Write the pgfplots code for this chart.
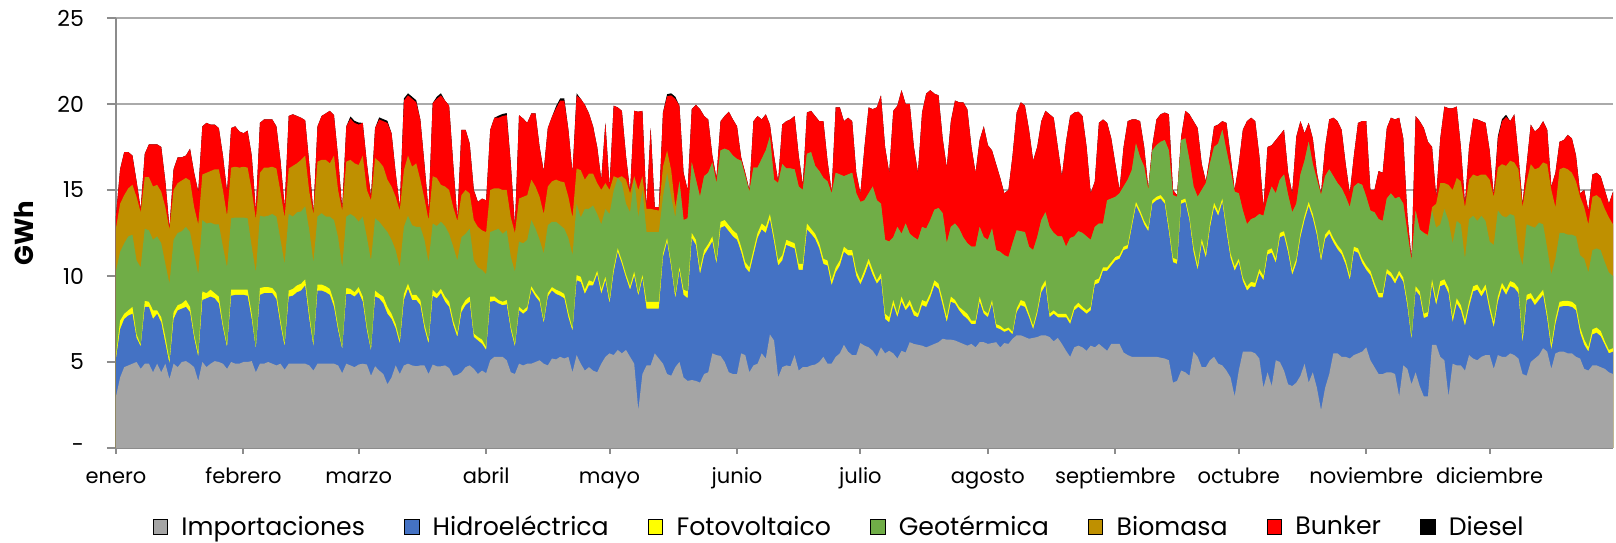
\documentclass[border=0pt]{standalone}
\usepackage{fontspec}
\setmainfont{Poppins}
\usepackage{pgfplots}
\pgfplotsset{compat=1.18}
\usepackage{pgfplotstable}
\usetikzlibrary{calc}
\definecolor{cImp}{RGB}{165,165,165}
\definecolor{cHid}{RGB}{68,114,196}
\definecolor{cFot}{RGB}{255,255,0}
\definecolor{cGeo}{RGB}{112,173,71}
\definecolor{cBio}{RGB}{191,144,0}
\definecolor{cBun}{RGB}{255,0,0}
\definecolor{cDie}{RGB}{0,0,0}
\definecolor{cGrid}{RGB}{170,170,170}
\definecolor{cAxis}{RGB}{140,140,140}
% cumulative tops of the stacked areas (GWh): g=Importaciones, b=+Hidro, y=+Fotovoltaico, e=+Geotermica, o=+Biomasa, r=+Bunker, k=+Diesel
\pgfplotstableread{
d g b y e o r k
0 3.0 5.2 5.4 10.3 12.8 13.5 13.5
1 4.1 6.9 7.4 11.4 14.2 16.2 16.2
2 4.7 7.5 7.8 11.9 14.7 17.2 17.2
3 4.8 7.7 8.0 12.3 15.1 17.2 17.2
4 4.9 7.8 8.2 12.4 15.3 17.0 17.0
5 5.0 6.4 6.6 10.9 14.6 15.5 15.5
6 4.6 5.9 6.0 10.5 13.7 13.9 13.9
7 4.9 8.2 8.55 12.75 15.75 17.1 17.1
8 4.9 8.2 8.5 12.65 15.75 17.65 17.65
9 4.4 7.5 8.0 12.1 15.2 17.65 17.65
10 4.9 7.8 8.0 12.3 15.3 17.65 17.65
11 4.4 7.3 7.6 11.9 14.9 17.5 17.5
12 4.9 6.1 6.45 10.7 14.0 15.5 15.5
13 4.0 4.9 5.1 9.55 12.7 12.8 12.8
14 4.9 7.5 7.9 12.1 15.0 16.2 16.2
15 4.7 8.0 8.3 12.5 15.4 16.9 16.9
16 5.0 8.1 8.4 12.6 15.55 16.9 16.9
17 5.05 8.2 8.6 12.85 15.7 17.0 17.0
18 4.9 7.9 8.2 12.55 15.55 17.4 17.4
19 4.7 6.4 6.6 11.3 14.0 16.0 16.0
20 3.9 5.3 5.5 10.1 13.0 14.9 14.9
21 5.0 8.6 9.1 13.25 15.9 18.7 18.7
22 4.7 8.7 9.0 13.05 16.0 18.9 18.9
23 4.9 8.8 9.2 13.1 16.1 18.8 18.8
24 5.05 8.7 9.0 13.0 16.2 18.8 18.8
25 5.0 8.4 8.8 13.0 16.2 18.6 18.6
26 4.9 7.0 7.2 11.7 15.0 17.0 17.0
27 4.6 5.85 6.0 10.5 13.5 14.9 14.9
28 5.0 8.85 9.2 13.35 16.3 18.6 18.6
29 4.9 8.9 9.2 13.4 16.35 18.7 18.7
30 4.9 8.9 9.2 13.4 16.3 18.4 18.4
31 5.0 8.9 9.2 13.4 16.35 18.3 18.3
32 5.0 8.85 9.2 13.35 16.3 18.45 18.45
33 5.05 7.5 7.8 11.7 15.0 17.0 17.0
34 4.4 5.75 5.8 10.2 13.3 13.8 13.8
35 4.9 8.9 9.3 13.5 16.0 18.9 18.9
36 4.9 9.0 9.35 13.45 16.3 19.1 19.1
37 5.0 9.0 9.35 13.5 16.3 19.1 19.1
38 4.9 9.0 9.3 13.6 16.35 19.1 19.1
39 4.8 8.65 9.0 13.45 16.25 18.7 18.7
40 4.9 7.15 7.4 12.1 14.9 16.7 16.7
41 4.55 5.9 6.05 10.7 13.4 14.0 14.0
42 4.9 8.8 9.15 13.6 16.25 19.3 19.3
43 4.9 8.85 9.25 13.45 16.4 19.4 19.4
44 4.9 9.05 9.45 13.7 16.55 19.3 19.3
45 4.9 9.15 9.55 13.75 16.75 19.2 19.2
46 4.9 9.45 9.8 14.05 17.0 19.05 19.05
47 4.8 7.5 7.8 12.65 14.9 16.5 16.5
48 4.5 5.9 6.05 10.8 13.6 13.7 13.7
49 4.9 9.15 9.5 13.45 16.65 18.7 18.7
50 4.9 9.15 9.5 13.65 16.75 19.3 19.3
51 4.9 9.05 9.4 13.45 16.75 19.45 19.45
52 4.9 8.9 9.25 13.45 16.55 19.6 19.6
53 4.9 8.2 8.5 13.25 17.0 19.35 19.35
54 4.8 6.85 7.05 12.25 15.0 16.9 16.9
55 4.35 5.75 5.85 10.5 13.8 13.9 13.9
56 4.9 8.95 9.3 13.45 16.65 18.7 18.7
57 4.8 8.95 9.25 13.6 16.75 19.15 19.27
58 4.7 8.8 9.05 13.45 16.55 18.9 19.02
59 4.85 9.05 9.35 13.15 16.45 18.8 18.92
60 4.9 8.5 8.8 13.45 17.0 18.9 18.9
61 4.85 6.85 7.05 12.25 15.0 16.55 16.55
62 4.2 5.65 5.75 10.9 14.4 14.6 14.6
63 4.75 8.8 9.15 13.35 16.85 18.6 18.6
64 4.5 8.7 8.95 13.15 16.65 19.1 19.22
65 4.3 8.4 8.8 12.85 16.35 19.0 19.12
66 3.7 7.8 8.2 12.55 15.6 18.9 19.02
67 4.1 7.5 7.8 12.1 15.2 18.3 18.3
68 4.8 6.95 7.2 11.5 14.6 16.0 16.0
69 4.3 6.05 6.25 10.5 13.8 14.0 14.0
70 4.8 8.6 8.95 12.85 16.15 20.2 20.32
71 4.9 9.25 9.55 13.5 17.0 20.5 20.62
72 4.8 8.6 8.9 12.95 16.35 20.3 20.42
73 4.75 8.6 8.9 12.85 16.55 20.1 20.22
74 4.8 8.3 8.6 12.85 15.6 19.1 19.1
75 4.8 6.95 7.2 12.1 14.5 16.5 16.5
76 4.3 6.05 6.25 10.8 13.25 13.8 13.8
77 4.85 8.85 9.2 13.05 15.8 20.05 20.05
78 4.75 8.7 8.95 12.9 15.7 20.3 20.42
79 4.75 9.0 9.25 13.15 15.3 20.5 20.62
80 4.8 8.5 8.8 12.9 15.2 20.2 20.2
81 4.65 8.2 8.5 12.45 15.0 19.9 19.9
82 4.2 7.15 7.4 11.7 14.0 16.5 16.5
83 4.25 6.45 6.65 10.9 13.2 13.3 13.3
84 4.4 7.9 8.2 12.25 14.7 18.5 18.5
85 4.7 8.3 8.6 12.45 15.0 18.5 18.5
86 4.8 8.5 8.8 12.75 14.8 17.7 17.7
87 4.6 6.45 6.65 10.9 13.25 15.0 15.0
88 4.3 6.25 6.45 10.5 12.85 14.3 14.3
89 4.5 6.05 6.3 10.35 12.65 14.5 14.5
90 4.35 5.7 5.85 10.1 12.55 14.4 14.4
91 5.1 8.5 8.8 12.55 15.0 18.5 18.5
92 5.3 8.55 8.8 12.65 15.1 19.2 19.2
93 5.3 8.4 8.6 12.75 15.1 19.2 19.32
94 5.3 8.3 8.5 12.45 15.0 19.3 19.42
95 5.1 8.35 8.6 12.65 15.0 19.35 19.47
96 4.4 6.85 7.05 11.1 13.4 16.5 16.5
97 4.3 5.9 6.05 10.25 12.5 12.9 12.9
98 4.9 8.0 8.2 12.0 14.5 19.35 19.35
99 4.8 7.8 8.0 11.9 14.6 19.15 19.15
100 4.9 8.0 8.2 12.1 14.7 18.9 18.9
101 4.9 9.2 9.4 13.25 15.6 19.45 19.45
102 5.0 8.8 9.0 12.75 15.2 19.45 19.45
103 5.1 8.5 8.7 12.1 14.6 17.5 17.5
104 4.9 7.25 7.4 11.3 13.6 16.1 16.1
105 4.8 8.8 9.0 12.95 15.2 18.6 18.6
106 5.2 9.15 9.35 13.15 15.5 19.25 19.25
107 5.15 8.95 9.2 13.15 15.6 19.75 19.87
108 5.3 8.85 9.1 12.95 15.5 20.2 20.32
109 5.2 8.7 8.95 12.75 15.45 20.2 20.32
110 5.3 7.6 7.85 12.2 14.6 18.5 18.5
111 4.4 6.8 6.95 11.2 13.4 16.0 16.0
112 5.4 9.75 10.05 14.2 16.25 20.5 20.62
113 4.9 9.65 9.95 13.4 16.15 20.3 20.3
114 4.5 8.95 9.2 13.9 15.6 19.95 19.95
115 4.7 9.45 9.75 13.9 15.95 19.45 19.45
116 4.5 9.45 9.65 14.1 15.95 18.7 18.7
117 4.4 10.1 10.3 13.6 15.4 17.5 17.5
118 4.9 8.95 9.2 13.0 15.0 15.6 15.6
119 5.3 9.75 9.95 13.9 15.4 18.9 18.9
120 5.5 8.4 8.6 13.6 15.0 15.2 15.2
121 5.4 10.2 10.45 14.95 15.8 19.9 19.9
122 5.7 11.4 11.6 15.7 15.7 19.8 19.8
123 5.5 10.7 10.9 15.4 15.8 19.6 19.6
124 5.7 9.9 10.1 14.2 15.6 17.0 17.0
125 5.3 9.2 9.4 13.7 14.8 14.9 14.9
126 4.9 10.0 10.25 15.7 15.8 19.6 19.6
127 2.2 8.85 9.0 13.4 15.0 19.55 19.55
128 4.3 9.85 10.05 15.0 15.8 19.6 19.6
129 4.8 8.1 8.5 12.55 13.9 14.0 14.0
130 4.8 8.1 8.5 12.55 13.9 18.6 18.6
131 5.5 8.1 8.5 12.55 13.85 14.0 14.0
132 5.2 8.1 8.5 12.55 13.8 14.0 14.0
133 4.9 11.1 11.3 14.6 16.35 19.5 19.5
134 4.3 12.0 12.2 16.0 17.3 20.45 20.57
135 4.2 10.5 10.7 14.6 16.15 20.5 20.62
136 4.7 8.7 8.9 13.4 14.0 20.3 20.42
137 5.0 10.3 10.5 15.5 15.5 19.9 19.9
138 4.1 8.9 9.2 13.25 13.25 16.0 16.0
139 3.9 8.7 9.1 13.35 13.35 15.0 15.0
140 3.95 12.2 12.5 16.6 16.6 19.7 19.7
141 3.9 11.8 12.1 15.6 15.6 19.95 19.95
142 3.8 10.1 10.4 14.6 14.6 19.7 19.7
143 4.3 11.2 11.5 15.8 15.8 19.3 19.3
144 4.4 11.6 11.85 16.0 16.0 19.1 19.1
145 5.5 12.0 12.3 16.6 16.6 17.0 17.0
146 5.4 10.7 10.9 15.4 15.4 15.7 15.7
147 5.35 12.8 13.15 17.3 17.3 19.0 19.0
148 5.0 12.9 13.25 17.4 17.4 19.3 19.3
149 4.4 12.6 12.95 17.3 17.3 19.55 19.55
150 4.3 12.3 12.65 17.0 17.0 19.1 19.1
151 4.3 12.1 12.45 16.8 16.8 18.7 18.7
152 5.5 11.4 11.7 16.7 16.7 16.9 16.9
153 5.4 10.5 10.8 15.8 15.8 16.0 16.0
154 4.4 10.2 10.5 14.9 14.9 15.0 15.0
155 4.8 11.2 11.5 16.3 16.3 19.0 19.0
156 4.9 12.2 12.5 16.3 16.3 19.3 19.3
157 5.5 12.7 13.05 16.8 16.8 19.1 19.1
158 5.2 12.5 12.85 17.3 17.3 19.4 19.4
159 6.6 13.3 13.6 18.1 18.1 18.8 18.8
160 6.25 12.0 12.3 15.6 15.6 17.0 17.0
161 4.1 10.6 10.9 15.4 15.4 15.5 15.5
162 4.7 10.9 11.2 16.5 16.5 18.8 18.8
163 4.8 11.8 12.1 16.25 16.25 19.0 19.0
164 4.75 11.7 12.0 16.25 16.25 19.1 19.1
165 5.4 11.6 11.9 16.2 16.2 19.3 19.3
166 4.5 10.35 10.7 15.2 15.2 17.0 17.0
167 4.7 10.35 10.7 15.0 15.0 15.3 15.3
168 4.7 12.7 13.05 17.1 17.1 19.5 19.5
169 4.8 12.45 12.75 17.2 17.2 19.6 19.6
170 4.85 12.15 12.45 16.4 16.4 19.3 19.3
171 5.0 11.6 11.9 16.1 16.1 19.0 19.0
172 5.3 10.7 11.0 15.7 15.7 19.0 19.0
173 4.9 10.6 10.9 15.5 15.5 16.7 16.7
174 4.9 9.45 9.75 14.8 14.8 14.9 14.9
175 5.3 10.2 10.5 16.0 16.0 19.8 19.8
176 5.5 10.6 10.9 15.9 15.9 19.8 19.8
177 6.0 11.4 11.7 15.8 15.8 19.0 19.0
178 5.6 11.2 11.5 15.9 15.9 19.2 19.2
179 5.4 11.2 11.5 16.0 16.0 19.0 19.0
180 5.4 10.0 10.3 14.8 14.8 16.0 16.0
181 6.1 9.5 9.75 14.3 14.3 14.8 14.8
182 5.95 10.05 10.35 14.4 14.4 17.5 17.5
183 5.85 10.7 11.0 14.8 14.8 19.8 19.8
184 5.65 10.05 10.35 15.2 15.2 19.7 19.7
185 5.3 9.55 9.75 14.4 14.4 19.8 19.8
186 5.85 9.85 10.15 14.2 14.2 20.5 20.5
187 5.5 7.5 7.8 12.1 12.1 17.5 17.5
188 5.65 7.3 7.6 12.0 12.0 16.0 16.0
189 5.5 8.3 8.6 12.25 12.25 19.6 19.6
190 5.2 7.6 7.8 12.85 12.85 19.9 19.9
191 5.65 8.5 8.8 12.45 12.45 20.8 20.8
192 5.55 8.0 8.2 13.05 13.05 20.0 20.0
193 6.15 8.3 8.6 12.45 12.45 20.0 20.0
194 6.05 7.7 8.0 12.25 12.25 17.5 17.5
195 6.0 7.6 7.8 12.1 12.1 16.0 16.0
196 5.95 8.3 8.6 12.85 12.85 19.5 19.5
197 5.85 8.2 8.5 12.75 12.75 20.6 20.6
198 5.95 8.75 9.0 13.25 13.25 20.8 20.8
199 6.05 9.45 9.75 13.85 13.85 20.6 20.6
200 6.15 9.25 9.55 13.95 13.95 20.5 20.5
201 6.35 8.3 8.6 13.65 13.65 18.0 18.0
202 6.3 7.3 7.6 11.9 11.9 16.3 16.3
203 6.3 8.5 8.8 12.85 12.85 19.0 19.0
204 6.25 8.4 8.6 13.05 13.05 20.2 20.2
205 6.15 8.0 8.2 12.75 12.75 20.1 20.1
206 6.05 7.7 8.0 12.25 12.25 20.1 20.1
207 5.95 7.5 7.8 11.9 11.9 19.7 19.7
208 6.05 7.2 7.4 11.7 11.7 17.5 17.5
209 5.85 7.2 7.4 11.7 11.7 16.0 16.0
210 6.15 8.5 8.8 12.85 12.85 17.9 17.9
211 6.15 7.8 8.0 12.25 12.25 18.7 18.7
212 6.05 7.6 7.8 12.1 12.1 17.6 17.6
213 6.1 8.4 8.6 12.75 12.75 17.3 17.3
214 6.15 7.0 7.2 11.5 11.5 16.5 16.5
215 5.85 6.9 7.1 11.4 11.4 15.7 15.7
216 6.1 6.75 6.9 11.2 11.2 14.8 14.8
217 6.05 6.85 7.0 11.1 11.1 15.0 15.0
218 6.35 6.6 6.75 11.9 11.9 17.0 17.0
219 6.55 7.9 8.1 12.65 12.65 19.5 19.5
220 6.55 8.3 8.6 12.6 12.6 20.1 20.1
221 6.45 8.2 8.5 12.55 12.55 19.9 19.9
222 6.35 7.6 7.8 11.7 11.7 18.5 18.5
223 6.4 6.9 7.1 11.5 11.5 16.7 16.7
224 6.45 7.8 8.0 12.25 12.25 17.5 17.5
225 6.55 9.05 9.35 13.25 13.25 19.0 19.0
226 6.55 9.45 9.75 13.7 13.7 19.6 19.6
227 6.45 7.6 7.8 12.85 12.85 19.4 19.4
228 6.2 7.8 8.0 12.5 12.5 19.2 19.2
229 6.4 7.6 7.8 12.3 12.3 17.5 17.5
230 6.05 7.6 7.8 12.3 12.3 15.8 15.8
231 5.65 7.6 7.8 11.7 11.7 17.8 17.8
232 5.3 7.2 7.4 12.2 12.2 19.3 19.3
233 5.85 8.0 8.2 12.3 12.3 19.5 19.5
234 5.95 8.2 8.45 12.6 12.6 19.55 19.55
235 5.85 8.0 8.2 12.5 12.5 19.3 19.3
236 5.65 7.8 8.0 12.3 12.3 17.5 17.5
237 5.95 8.0 8.2 12.1 12.1 14.8 14.8
238 5.85 9.5 9.75 12.85 12.85 15.5 15.5
239 6.05 9.6 9.85 13.05 13.05 18.9 18.9
240 5.85 10.3 10.5 13.05 13.05 19.1 19.1
241 5.65 10.3 10.5 14.4 14.4 18.9 18.9
242 6.05 10.6 10.8 14.5 14.5 18.0 18.0
243 6.05 10.9 11.1 14.6 14.6 16.5 16.5
244 6.05 11.0 11.2 14.8 14.8 15.0 15.0
245 5.55 11.5 11.7 15.2 15.2 17.5 17.5
246 5.4 11.6 11.8 15.6 15.6 19.0 19.0
247 5.3 12.85 13.05 16.15 16.15 19.1 19.1
248 5.3 14.1 14.3 17.7 17.7 19.1 19.1
249 5.3 13.6 13.8 16.9 16.9 19.0 19.0
250 5.3 13.0 13.2 16.35 16.35 17.5 17.5
251 5.3 12.6 12.8 15.0 15.0 15.1 15.1
252 5.3 14.2 14.4 17.3 17.3 17.6 17.6
253 5.3 14.4 14.6 17.6 17.6 19.1 19.1
254 5.25 14.5 14.7 17.8 17.8 19.4 19.4
255 5.2 14.2 14.4 17.9 17.9 19.5 19.5
256 5.1 12.6 12.85 17.3 17.3 19.4 19.4
257 3.8 10.8 11.05 14.7 14.7 15.0 15.0
258 3.9 10.7 10.95 14.6 14.6 14.7 14.7
259 4.5 14.2 14.4 17.9 17.9 18.1 18.1
260 4.4 14.3 14.5 18.0 18.0 19.6 19.6
261 4.2 13.25 13.45 16.75 16.75 19.4 19.4
262 5.6 11.4 11.7 15.2 15.2 19.0 19.0
263 5.3 10.35 10.6 14.6 14.6 18.6 18.6
264 4.7 11.9 12.15 15.0 15.0 16.5 16.5
265 4.7 11.05 11.3 15.4 15.4 15.5 15.5
266 5.1 12.8 13.05 16.55 16.55 17.0 17.0
267 5.3 14.0 14.25 17.5 17.5 18.7 18.7
268 4.9 13.5 13.75 17.7 17.7 18.8 18.8
269 4.8 14.3 14.5 18.5 18.5 19.0 19.0
270 4.5 12.6 12.85 17.3 17.3 18.9 18.9
271 4.1 11.05 11.3 16.15 16.15 17.0 17.0
272 3.0 10.3 10.55 14.9 14.9 15.0 15.0
273 4.5 10.8 11.0 14.8 14.8 16.5 16.5
274 5.6 9.7 9.9 13.8 13.8 18.5 18.5
275 5.6 9.15 9.4 13.0 13.0 19.0 19.0
276 5.6 9.4 9.65 13.3 13.3 19.2 19.2
277 5.5 9.35 9.6 13.4 13.4 19.0 19.0
278 5.2 10.15 10.4 13.6 13.6 17.0 17.0
279 3.5 9.75 10.0 13.5 13.5 14.0 14.0
280 4.4 11.25 11.5 14.5 14.5 17.5 17.5
281 3.6 11.35 11.6 15.2 15.2 17.6 17.6
282 5.1 10.75 11.0 14.8 14.8 17.9 17.9
283 5.0 12.25 12.5 15.6 15.6 18.2 18.2
284 4.5 12.35 12.6 15.9 15.9 18.5 18.5
285 3.7 11.35 11.6 14.7 14.7 16.0 16.0
286 3.6 10.05 10.3 13.7 13.7 14.8 14.8
287 3.8 10.75 11.0 14.2 14.2 18.1 18.1
288 4.2 12.25 12.5 15.9 15.9 19.0 19.0
289 4.9 13.25 13.5 16.7 16.7 18.3 18.3
290 3.8 14.05 14.3 17.8 17.8 18.9 18.9
291 4.4 13.35 13.6 16.5 16.5 18.0 18.0
292 3.5 12.35 12.6 15.6 15.6 16.0 16.0
293 2.2 10.85 11.1 14.7 14.7 14.8 14.8
294 3.5 12.15 12.4 15.8 15.8 17.5 17.5
295 4.3 12.45 12.7 16.2 16.2 19.1 19.1
296 5.5 11.95 12.2 15.8 15.8 19.2 19.2
297 5.5 11.55 11.8 15.4 15.4 19.0 19.0
298 5.3 11.25 11.5 15.1 15.1 18.5 18.5
299 5.3 10.65 10.9 14.6 14.6 16.5 16.5
300 5.2 9.75 10.0 14.0 14.0 14.8 14.8
301 5.4 11.45 11.7 15.2 15.2 17.0 17.0
302 5.5 11.35 11.6 15.4 15.4 18.9 18.9
303 5.6 10.75 11.0 15.3 15.3 19.0 19.0
304 5.85 10.35 10.6 14.6 14.6 19.0 19.0
305 5.1 10.05 10.3 13.8 13.8 15.0 15.0
306 4.7 9.35 9.6 13.7 13.7 15.0 15.0
307 4.3 8.75 9.0 13.3 13.3 16.1 16.1
308 4.3 8.75 9.0 13.2 13.2 16.0 16.0
309 4.4 10.15 10.4 14.5 14.5 18.6 18.6
310 4.4 9.95 10.2 14.8 14.8 19.2 19.2
311 4.3 9.55 9.8 14.5 14.5 19.1 19.1
312 3.0 10.05 10.3 14.6 14.6 19.2 19.2
313 4.8 9.65 9.9 14.2 14.2 18.0 18.0
314 4.6 8.25 8.5 12.5 12.5 13.5 13.5
315 3.7 6.3 6.45 10.9 10.9 11.0 11.0
316 4.4 9.15 9.4 13.8 13.8 19.3 19.3
317 3.6 8.85 9.1 12.7 12.7 19.0 19.0
318 3.0 7.55 7.8 12.5 12.5 18.6 18.6
319 3.0 7.65 7.9 12.3 12.4 17.8 17.8
320 6.0 9.5 9.8 13.8 14.0 17.5 17.5
321 6.0 8.3 8.6 12.8 14.2 14.6 14.6
322 5.3 9.4 9.7 13.0 15.4 18.0 18.0
323 5.1 9.5 9.8 13.9 15.4 19.85 19.85
324 3.0 9.0 9.3 13.2 15.3 19.75 19.75
325 4.9 7.3 7.6 11.9 15.0 19.75 19.75
326 4.8 8.4 8.7 13.2 15.7 19.85 19.85
327 4.8 8.0 8.3 13.0 15.5 17.5 17.5
328 4.5 7.1 7.4 11.0 14.0 14.2 14.2
329 5.4 8.2 8.5 13.3 15.6 17.5 17.5
330 5.2 9.1 9.4 13.5 15.9 19.15 19.15
331 5.1 9.2 9.5 13.2 15.8 19.1 19.1
332 5.3 8.8 9.1 13.5 15.9 19.0 19.0
333 5.4 9.2 9.5 13.2 15.9 18.9 18.9
334 5.4 8.0 8.3 12.0 15.6 17.3 17.3
335 4.6 7.0 7.3 11.8 14.6 14.7 14.7
336 5.4 8.5 8.8 13.8 16.3 18.0 18.12
337 5.3 9.3 9.6 13.5 16.5 19.0 19.12
338 5.3 8.9 9.2 13.4 16.4 19.25 19.37
339 5.5 9.4 9.7 13.6 16.7 19.0 19.0
340 5.4 9.3 9.6 13.5 16.6 19.4 19.4
341 5.2 9.0 9.3 11.5 16.2 17.0 17.0
342 4.3 6.1 6.4 10.6 14.0 14.2 14.2
343 4.2 8.6 8.9 13.0 15.5 16.5 16.5
344 5.0 8.7 9.0 12.9 16.5 18.8 18.8
345 5.2 8.3 8.6 12.8 16.2 18.4 18.4
346 5.4 8.6 8.9 13.1 16.3 18.6 18.6
347 5.8 8.9 9.2 13.0 16.6 19.0 19.0
348 5.6 7.5 7.8 11.6 16.5 18.5 18.5
349 4.6 5.7 6.0 10.1 15.0 15.2 15.2
350 5.5 7.2 7.5 11.0 14.0 16.0 16.0
351 5.6 8.2 8.5 12.5 16.2 17.8 17.8
352 5.6 8.25 8.55 12.5 16.3 17.9 17.9
353 5.5 8.25 8.55 12.4 16.2 18.2 18.2
354 5.5 8.2 8.5 12.4 16.0 18.0 18.0
355 5.3 8.0 8.3 12.3 15.5 17.0 17.0
356 5.2 6.7 7.0 11.2 14.6 14.8 14.8
357 4.6 6.0 6.3 11.0 14.0 15.0 15.0
358 4.5 5.6 5.85 10.2 13.0 13.8 13.8
359 4.8 6.6 6.9 11.5 14.6 15.9 15.9
360 4.8 6.7 7.0 11.6 14.7 16.0 16.0
361 4.7 6.5 6.8 11.5 14.5 15.8 15.8
362 4.6 6.0 6.2 10.8 13.9 15.0 15.0
363 4.4 5.5 5.7 10.2 13.4 14.2 14.2
364 4.3 5.6 5.8 10.0 13.0 14.9 14.9
}\data

\begin{document}
\begin{tikzpicture}
\begin{axis}[
  name=ax,
  scale only axis, width=748.5pt, height=215pt,
  xmin=0, xmax=364, ymin=0, ymax=25,
  axis x line*=bottom, axis y line*=left,
  axis line style={-, draw=cAxis, line width=1pt},
  ytick={0,5,10,15,20,25}, yticklabels={-,5,10,15,20,25},
  ymajorgrids, grid style={cGrid, line width=1pt},
  xtick={0,31,59,90,120,151,181,212,243,273,304,334},
  xticklabels={enero,febrero,marzo,abril,mayo,junio,julio,agosto,septiembre,octubre,noviembre,diciembre},
  tick align=outside, major tick length=4.5pt,
  xtick style={/pgfplots/major tick length=3pt},
  tick style={cAxis, line width=1pt},
  yticklabel style={font=\fontsize{11}{12}\selectfont, xshift=-8pt},
  xticklabel style={font=\fontsize{10.5}{12}\selectfont, anchor=base, yshift=-13.5pt},
  ylabel={GWh},
  ylabel style={at={(axis description cs:-0.0615,0.5)}, anchor=center, font=\bfseries\fontsize{13}{14}\selectfont},
  legend style={at={(0.4837,-0.1837)}, anchor=center, legend columns=-1, draw=none, fill=none,
    font=\fontsize{12.6}{14}\selectfont, inner sep=0pt,
    /tikz/every even column/.append style={column sep=17.5pt}},
  legend image code/.code={\fill[#1] (0pt,-3.65pt) rectangle (7.3pt,3.65pt); \path (12pt,0pt);},
]
\addlegendimage{fill=cImp}\addlegendentry{Importaciones}
\addlegendimage{fill=cHid}\addlegendentry{Hidroeléctrica}
\addlegendimage{fill=cFot}\addlegendentry{Fotovoltaico}
\addlegendimage{fill=cGeo}\addlegendentry{Geotérmica}
\addlegendimage{fill=cBio}\addlegendentry{Biomasa}
\addlegendimage{fill=cBun}\addlegendentry{Bunker}
\addlegendimage{fill=cDie}\addlegendentry{Diesel}
\addplot[fill=cDie, draw=none, forget plot] table[x=d,y=k]{\data} \closedcycle;
\addplot[fill=cBun, draw=none, forget plot] table[x=d,y=r]{\data} \closedcycle;
\addplot[fill=cBio, draw=none, forget plot] table[x=d,y=o]{\data} \closedcycle;
\addplot[fill=cGeo, draw=none, forget plot] table[x=d,y=e]{\data} \closedcycle;
\addplot[fill=cFot, draw=none, forget plot] table[x=d,y=y]{\data} \closedcycle;
\addplot[fill=cHid, draw=none, forget plot] table[x=d,y=b]{\data} \closedcycle;
\addplot[fill=cImp, draw=none, forget plot] table[x=d,y=g]{\data} \closedcycle;
\end{axis}
\path[use as bounding box] ($(ax.south west)+(-58pt,-47pt)$) rectangle ($(ax.north east)+(1.5pt,9pt)$);
\end{tikzpicture}
\end{document}
